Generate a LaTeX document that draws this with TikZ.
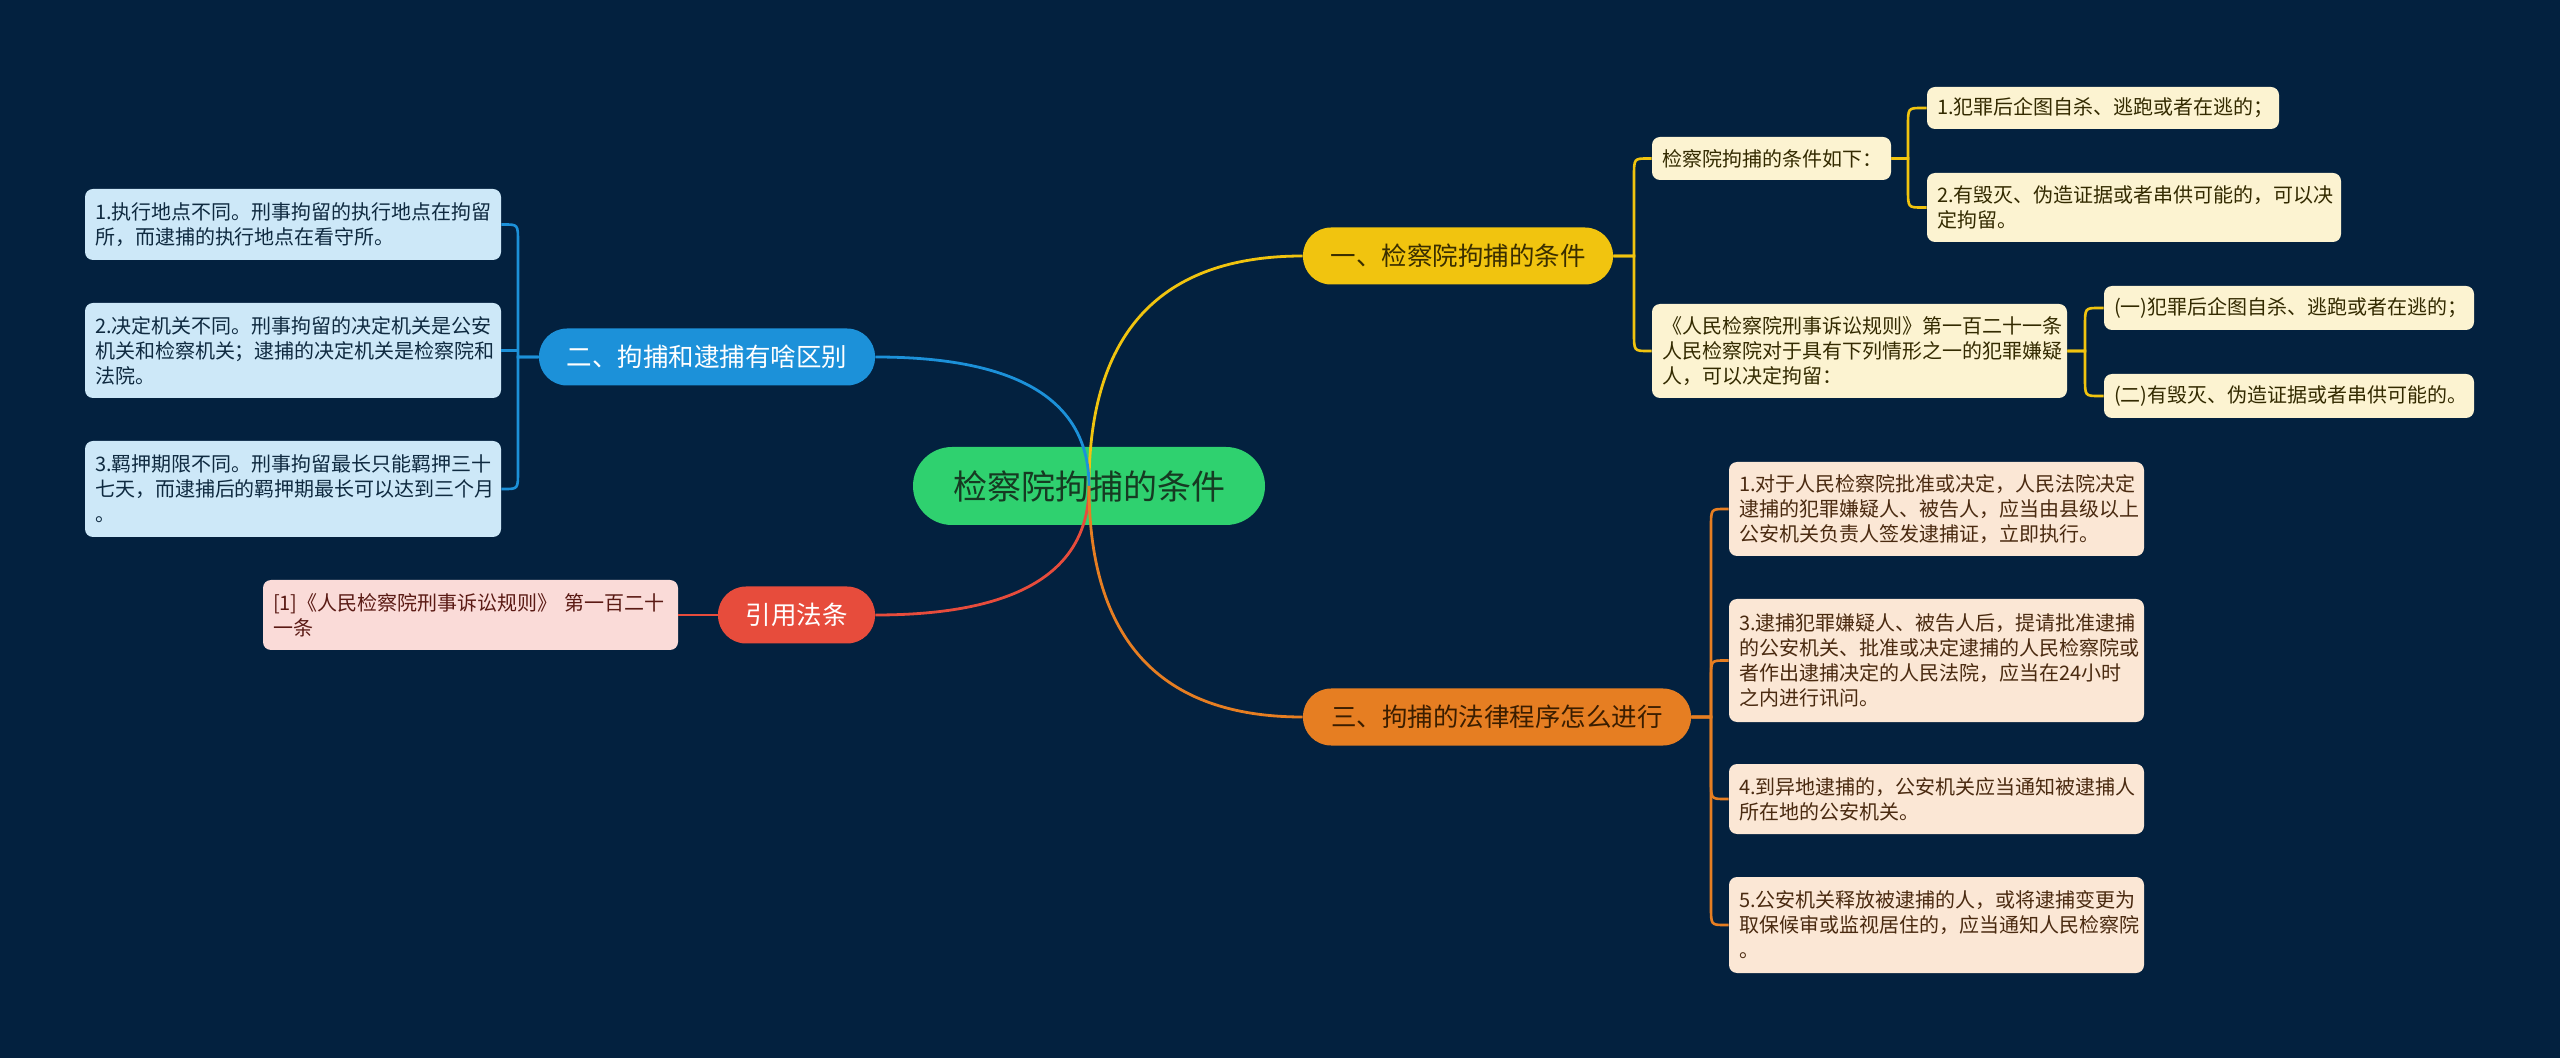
\documentclass[tikz,border=0pt]{standalone}
\usepackage{fontspec}
\setmainfont{Noto Sans CJK SC}
\usetikzlibrary{calc}
\definecolor{bg}{HTML}{03213F}
\definecolor{rootc}{HTML}{2FD16F}
\definecolor{roottxt}{HTML}{163A22}
\definecolor{yelc}{HTML}{F1C40F}
\definecolor{yeltxt}{HTML}{3A2E00}
\definecolor{bluc}{HTML}{1C91D9}
\definecolor{redc}{HTML}{E74C3C}
\definecolor{orac}{HTML}{E67E22}
\definecolor{oratxt}{HTML}{3A1D00}
\definecolor{lbfill}{HTML}{CDE8F8}
\definecolor{lbtxt}{HTML}{0F2A40}
\definecolor{lyfill}{HTML}{FCF3D1}
\definecolor{lytxt}{HTML}{332A00}
\definecolor{lrfill}{HTML}{FADBD8}
\definecolor{lrtxt}{HTML}{5A1A14}
\definecolor{lofill}{HTML}{FBE7D5}
\definecolor{lotxt}{HTML}{4A2A10}
\tikzset{
  rootbox/.style={fill=rootc, text=roottxt, rounded corners=19.5pt, minimum width=176pt, minimum height=39pt, inner sep=0pt, font=\fontsize{17}{20}\selectfont},
  branchbox/.style={rounded corners=14pt, minimum height=28.5pt, inner sep=0pt, font=\fontsize{12.75}{15}\selectfont},
  leafbox/.style={rounded corners=4pt, inner xsep=5pt, inner ysep=0pt, align=left, font=\fontsize{10}{12.5}\selectfont},
  bleaf/.style={leafbox, fill=lbfill, text=lbtxt},
  yleaf/.style={leafbox, fill=lyfill, text=lytxt},
  rleaf/.style={leafbox, fill=lrfill, text=lrtxt},
  oleaf/.style={leafbox, fill=lofill, text=lotxt},
  mainline/.style={line width=1.4pt},
  subline/.style={line width=1.3pt},
}
\newcommand\mmfork[4]{%
  \draw[#1] (#2) -- (#3) -- ($(#3 |- #4)!9pt!(#3)$) .. controls (#3 |- #4) .. ($(#3 |- #4)!7pt!(#4)$) -- (#4);}
\begin{document}
\begin{tikzpicture}[x=0.5pt,y=-0.5pt]
\fill[bg] (0,0) rectangle (2560,1058);
\useasboundingbox (0,0) rectangle (2560,1058);

% root
\node[rootbox] (root) at (1089,486) {检察院拘捕的条件};

% branches
\node[branchbox, fill=yelc, text=yeltxt, minimum width=155pt] (b1) at (1458,256) {一、检察院拘捕的条件};
\node[branchbox, fill=bluc, text=white, minimum width=168pt] (b2) at (707,357) {二、拘捕和逮捕有啥区别};
\node[branchbox, fill=orac, text=oratxt, minimum width=194pt] (b3) at (1497,717) {三、拘捕的法律程序怎么进行};
\node[branchbox, fill=redc, text=white, minimum width=78.5pt] (b4) at (796.5,615) {引用法条};

% blue leaves
\node[bleaf, text width=198pt, minimum height=35.5pt] (L21) at (293,224.5) {1.执行地点不同。刑事拘留的执行地点在拘留\\所，而逮捕的执行地点在看守所。};
\node[bleaf, text width=198pt, minimum height=47.5pt] (L22) at (293,350.5) {2.决定机关不同。刑事拘留的决定机关是公安\\机关和检察机关；逮捕的决定机关是检察院和\\法院。};
\node[bleaf, text width=198pt, minimum height=48pt] (L23) at (293,489) {3.羁押期限不同。刑事拘留最长只能羁押三十\\七天，而逮捕后的羁押期最长可以达到三个月\\。};

% red leaf
\node[rleaf, text width=197.5pt, minimum height=35pt] (L41) at (470.5,615) {[1]《人民检察院刑事诉讼规则》 第一百二十\\一条};

% yellow leaves
\node[yleaf, text width=109.5pt, minimum height=21.5pt] (L11) at (1771.5,158.5) {检察院拘捕的条件如下：};
\node[yleaf, text width=166pt, minimum height=21pt] (L111) at (2103,108) {1.犯罪后企图自杀、逃跑或者在逃的；};
\node[yleaf, text width=197pt, minimum height=34.5pt] (L112) at (2134,207.5) {2.有毁灭、伪造证据或者串供可能的，可以决\\定拘留。};
\node[yleaf, text width=197.5pt, minimum height=47pt] (L12) at (1859.5,351) {《人民检察院刑事诉讼规则》第一百二十一条\\人民检察院对于具有下列情形之一的犯罪嫌疑\\人，可以决定拘留：};
\node[yleaf, text width=175pt, minimum height=22pt] (L121) at (2289,308) {(一)犯罪后企图自杀、逃跑或者在逃的；};
\node[yleaf, text width=175pt, minimum height=22pt] (L122) at (2289,396) {(二)有毁灭、伪造证据或者串供可能的。};

% orange leaves
\node[oleaf, text width=197.5pt, minimum height=47pt] (L31) at (1936.5,509) {1.对于人民检察院批准或决定，人民法院决定\\逮捕的犯罪嫌疑人、被告人，应当由县级以上\\公安机关负责人签发逮捕证，立即执行。};
\node[oleaf, text width=197.5pt, minimum height=61.5pt] (L32) at (1936.5,660.5) {3.逮捕犯罪嫌疑人、被告人后，提请批准逮捕\\的公安机关、批准或决定逮捕的人民检察院或\\者作出逮捕决定的人民法院，应当在24小时\\之内进行讯问。};
\node[oleaf, text width=197.5pt, minimum height=35pt] (L33) at (1936.5,799) {4.到异地逮捕的，公安机关应当通知被逮捕人\\所在地的公安机关。};
\node[oleaf, text width=197.5pt, minimum height=48pt] (L34) at (1936.5,925) {5.公安机关释放被逮捕的人，或将逮捕变更为\\取保候审或监视居住的，应当通知人民检察院\\。};

% bracket points
\coordinate (k1) at (1634,256);
\coordinate (k11) at (1908,158.5);
\coordinate (k12) at (2085,351);
\coordinate (k2) at (518,357);
\coordinate (k3) at (1711,717);

% main connectors (drawn over the root)
\draw[mainline, yelc] (root.center) .. controls (1089,332.7) and (1160.3,256) .. (b1.west);
\draw[mainline, bluc] (root.center) .. controls (1089,400) and (1017.7,357) .. (b2.east);
\draw[mainline, redc] (root.center) .. controls (1089,572) and (1017.7,615) .. (b4.east);
\draw[mainline, orac] (root.center) .. controls (1089,640) and (1160.3,717) .. (b3.west);

% yellow forks
\mmfork{subline, yelc}{b1.east}{k1}{L11.west}
\mmfork{subline, yelc}{b1.east}{k1}{L12.west}
\mmfork{subline, yelc}{L11.east}{k11}{L111.west}
\mmfork{subline, yelc}{L11.east}{k11}{L112.west}
\mmfork{subline, yelc}{L12.east}{k12}{L121.west}
\mmfork{subline, yelc}{L12.east}{k12}{L122.west}

% blue forks
\mmfork{subline, bluc}{b2.west}{k2}{L21.east}
\draw[subline, bluc] (b2.west) -- (k2) -- (k2 |- L22.east) -- (L22.east);
\mmfork{subline, bluc}{b2.west}{k2}{L23.east}

% red
\draw[subline, redc] (b4.west) -- (L41.east);

% orange forks
\mmfork{subline, orac}{b3.east}{k3}{L31.west}
\mmfork{subline, orac}{b3.east}{k3}{L32.west}
\mmfork{subline, orac}{b3.east}{k3}{L33.west}
\mmfork{subline, orac}{b3.east}{k3}{L34.west}
\end{tikzpicture}
\end{document}
